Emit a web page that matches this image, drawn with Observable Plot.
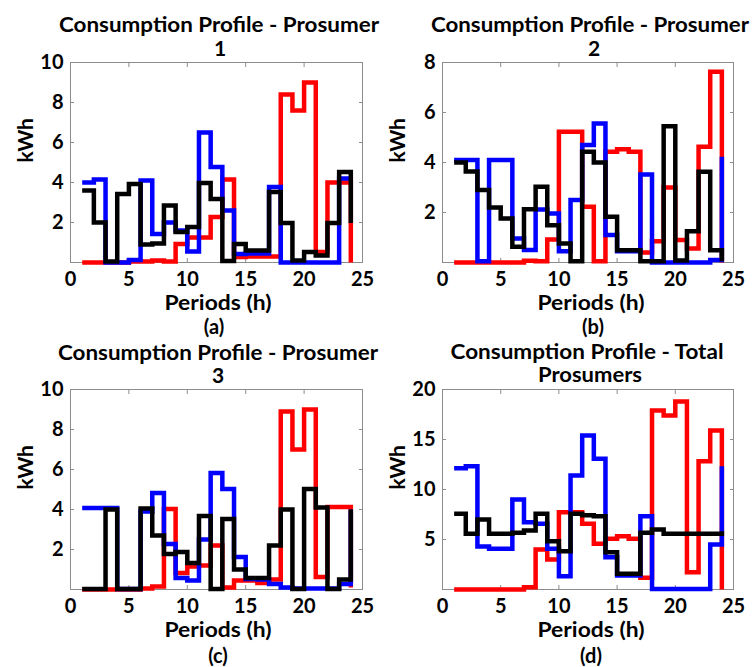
<!DOCTYPE html>
<html>
<head>
<meta charset="utf-8">
<script src="https://cdn.jsdelivr.net/npm/d3@7"></script>
<script src="https://cdn.jsdelivr.net/npm/@observablehq/plot@0.6"></script>
<style>
  body { margin: 0; background: #fff; }
  #root { position: relative; width: 752px; height: 667px; overflow: hidden; font-family: Lato, sans-serif; }
  .panel { position: absolute; }
  #overlay { position: absolute; left: 0; top: 0; pointer-events: none; }
</style>
</head>
<body>
<div id="root"></div>
<script>
// ---- data ----
const periods = [1,2,3,4,5,6,7,8,9,10,11,12,13,14,15,16,17,18,19,20,21,22,23,24];
const xTicks = [0,5,10,15,20,25];

const p1Red   = [0,0,0,0,0.05,0.05,0.1,0.05,0.93,1.25,1.25,2.27,4.15,0.28,0.3,0.3,0.3,8.4,7.6,9.0,0.52,4.0,4.0,0];
const p1Blue  = [4.0,4.15,0,0,0.13,4.1,1.43,2.0,1.6,0.55,6.5,4.77,2.6,0.43,0.45,0.45,3.77,0,0,0,0,0,4.2,4.2];
const p1Black = [3.6,2.0,0.05,3.43,3.93,0.9,0.95,2.85,1.52,1.77,3.97,3.18,0.07,0.93,0.6,0.6,3.52,1.98,0.1,0.52,0.35,1.98,4.52,1.98];

const p2Red   = [0,0,0,0,0,0,0.07,0.05,0.92,5.23,5.23,2.23,0.05,4.43,4.53,4.43,0.4,0.85,3.0,0.9,0.56,4.63,7.63,0];
const p2Blue  = [4.1,4.1,0.05,4.1,4.1,0.96,0.5,2.12,1.96,0.45,2.5,4.7,5.56,1.1,0.45,0.45,3.52,0,0,0,0,0,0.1,4.23];
const p2Black = [4.0,3.64,2.9,2.2,1.76,0.63,2.13,3.03,1.49,0.76,0.05,4.43,4.0,1.83,0.49,0.49,0.05,0.05,5.45,0.08,1.25,3.63,0.49,0.05];

const p3Red   = [0,0,0,0,0,0.05,0.15,4.03,0.82,1.15,1.2,2.2,0.1,0.45,0.45,0.33,0.5,8.9,7.0,9.0,0.62,4.12,4.12,0.1];
const p3Blue  = [4.08,4.08,4.08,0.03,0.03,3.9,4.82,2.28,0.58,0.45,2.5,5.83,5.03,1.62,0.53,0.5,0.28,0.1,0.05,0.05,0.05,0.05,0.28,4.0];
const p3Black = [0.03,0.03,4.0,0.03,0.03,4.05,2.7,1.78,1.87,1.32,3.67,0.03,3.53,1.0,0.58,0.58,2.2,4.0,0.03,5.03,4.1,0.03,0.5,4.0];

const p4Red   = [0,0,0,0,0,0,0.23,4.0,3.0,7.73,7.73,6.57,4.57,5.07,5.33,5.07,1.17,17.9,17.4,18.8,1.73,12.83,15.9,0];
const p4Blue  = [12.13,12.33,4.3,4.07,4.07,9.0,6.73,6.57,4.07,1.33,11.4,15.4,13.07,3.23,1.4,1.4,7.33,0.05,0.05,0.05,0.05,0.05,4.5,12.33];
const p4Black = [7.57,5.57,7.0,5.57,5.57,5.67,5.9,7.57,4.83,3.83,7.57,7.43,7.33,3.73,1.57,1.57,5.67,6.0,5.57,5.57,5.57,5.57,5.57,5.83];

const yTicks10 = [2,4,6,8,10];
const yTicks8  = [2,4,6,8];
const yTicks20 = [5,10,15,20];

const titles = [
  ["Consumption Profile - Prosumer", "1"],
  ["Consumption Profile - Prosumer", "2"],
  ["Consumption Profile - Prosumer", "3"],
  ["Consumption Profile - Total", "Prosumers"]
];
const captions = ["(a)", "(b)", "(c)", "(d)"];
const xLabel = "Periods (h)";
const yLabel = "kWh";

// ---- drawing ----
const root = document.getElementById("root");
const axisGray = "#8c8c8c";

function panel(red, blue, black, yMax, yTicks, L) {
  const rows = s => periods.map((p, i) => ({period: p, value: s[i]}));
  const lineOpts = c => ({x: "period", y: "value", curve: "step-after", stroke: c, strokeWidth: 4.5, strokeLinejoin: "miter", strokeMiterlimit: 4, strokeLinecap: "butt"});
  const chart = Plot.plot({
    width: L.w, height: L.h,
    marginLeft: L.ml, marginRight: L.mr, marginTop: L.mt, marginBottom: L.mb,
    x: {domain: [0, 25]},
    y: {domain: [0, yMax]},
    style: {fontFamily: "Lato, sans-serif", fontSize: "20px", fontWeight: "bold", color: "#000", background: "transparent", overflow: "visible"},
    marks: [
      Plot.frame({stroke: axisGray, strokeWidth: 1}),
      Plot.axisX(xTicks, {anchor: "bottom", tickSize: -4, tickPadding: 13, stroke: axisGray, label: null}),
      Plot.axisX(xTicks, {anchor: "top", tickSize: -4, tickFormat: () => "", stroke: axisGray, label: null}),
      Plot.axisY(yTicks, {anchor: "left", tickSize: -4, tickPadding: 11, stroke: axisGray, label: null}),
      Plot.axisY(yTicks, {anchor: "right", tickSize: -4, tickFormat: () => "", stroke: axisGray, label: null}),
      Plot.lineY(rows(red), lineOpts("#ff0000")),
      Plot.lineY(rows(blue), lineOpts("#0000ff")),
      Plot.lineY(rows(black), lineOpts("#000000")),
      Plot.text([yLabel], {frameAnchor: "left", rotate: -90, dx: -44, text: d => d, fontSize: 21, fontWeight: "bold"})
    ]
  });
  chart.classList.add("panel");
  chart.style.left = L.left + "px";
  chart.style.top = L.top + "px";
  root.appendChild(chart);
}

panel(p1Red, p1Blue, p1Black, 10, yTicks10, {left: 0,   top: 50,  w: 376, h: 245, ml: 70, mr: 14, mt: 12, mb: 33});
panel(p2Red, p2Blue, p2Black, 8,  yTicks8,  {left: 376, top: 50,  w: 376, h: 245, ml: 66, mr: 19, mt: 12, mb: 33});
panel(p3Red, p3Blue, p3Black, 10, yTicks10, {left: 0,   top: 376, w: 376, h: 247, ml: 70, mr: 14, mt: 13, mb: 34});
panel(p4Red, p4Blue, p4Black, 20, yTicks20, {left: 376, top: 376, w: 376, h: 247, ml: 66, mr: 19, mt: 13, mb: 34});

// ---- titles, x labels and captions ----
const svg = d3.select(root).append("svg")
  .attr("id", "overlay").attr("width", 752).attr("height", 667)
  .style("font-family", "Lato, sans-serif").style("font-weight", "bold");

const textSpecs = [
  {t: titles[0][0], x: 219, y: 32,  size: 21, len: 320},
  {t: titles[0][1], x: 220, y: 56,  size: 21},
  {t: titles[1][0], x: 590, y: 32,  size: 21, len: 318},
  {t: titles[1][1], x: 594, y: 56,  size: 21},
  {t: titles[2][0], x: 218, y: 360, size: 21, len: 320},
  {t: titles[2][1], x: 218, y: 383, size: 21},
  {t: titles[3][0], x: 587, y: 359, size: 21, len: 273},
  {t: titles[3][1], x: 590, y: 382, size: 21, len: 104},
  {t: xLabel, x: 218, y: 310, size: 20, len: 107},
  {t: xLabel, x: 591, y: 310, size: 20, len: 107},
  {t: xLabel, x: 218, y: 637, size: 20, len: 107},
  {t: xLabel, x: 591, y: 637, size: 20, len: 107},
  {t: captions[0], x: 214, y: 334, size: 20},
  {t: captions[1], x: 593, y: 334, size: 20},
  {t: captions[2], x: 218, y: 663, size: 20},
  {t: captions[3], x: 591, y: 663, size: 20}
];
for (const s of textSpecs) {
  const el = svg.append("text")
    .attr("x", s.x).attr("y", s.y)
    .attr("text-anchor", "middle")
    .attr("font-size", s.size)
    .attr("fill", "#000")
    .text(s.t);
  if (s.len) el.attr("textLength", s.len).attr("lengthAdjust", "spacingAndGlyphs");
}
</script>
</body>
</html>
